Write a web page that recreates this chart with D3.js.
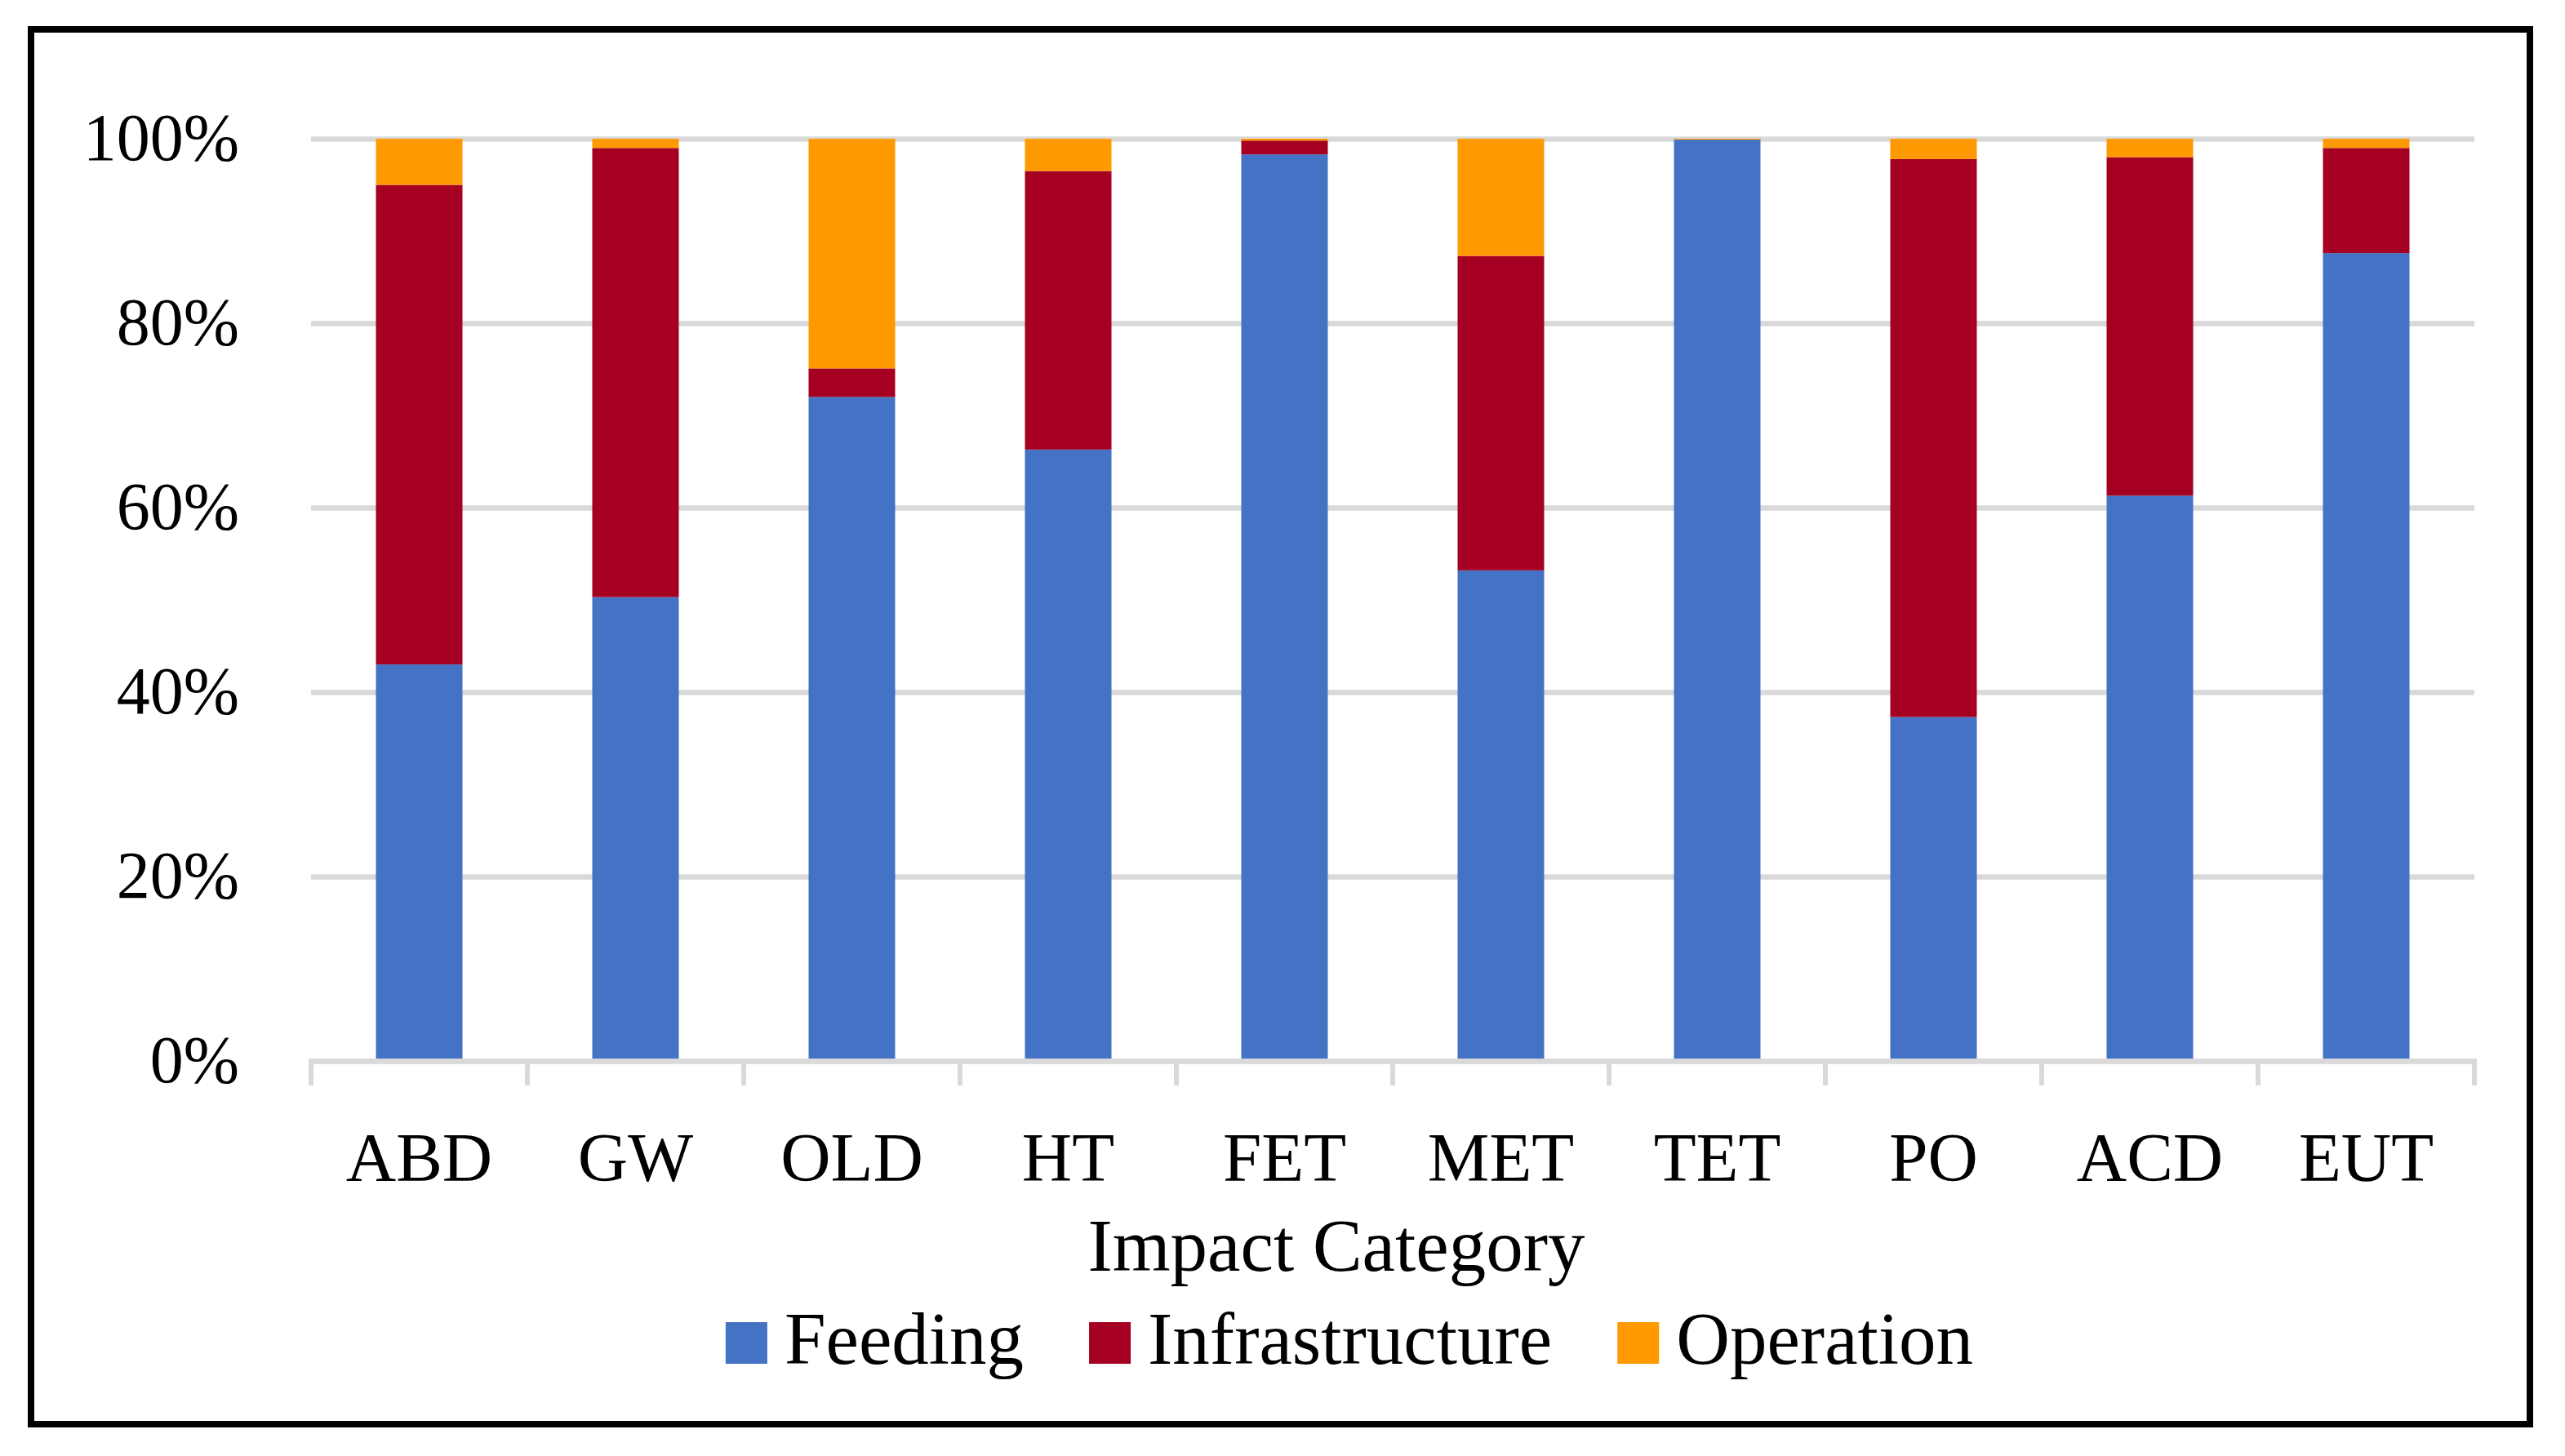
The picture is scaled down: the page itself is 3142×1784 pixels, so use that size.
<!DOCTYPE html>
<html>
<head>
<meta charset="utf-8">
<script src="https://cdn.jsdelivr.net/npm/d3@7"></script>
<style>
  body { margin: 0; background: #fff; }
  text { font-family: 'Liberation Serif', 'Times New Roman', serif; fill: #000; }
</style>
</head>
<body>
<div class="container"></div>
<script>
// impact categories along the x axis
const categories = ['ABD', 'GW', 'OLD', 'HT', 'FET', 'MET', 'TET', 'PO', 'ACD', 'EUT']

// share of each contributor, in percent
const feeding = [43.0, 50.3, 72.0, 66.3, 98.3, 53.2, 99.9, 37.3, 61.3, 87.6]
const infrastructure = [52.0, 48.7, 3.1, 30.2, 1.5, 34.1, 0.0, 60.5, 36.7, 11.4]
const operation = [5.0, 1.0, 24.9, 3.5, 0.2, 12.7, 0.1, 2.2, 2.0, 1.0]

const seriesNames = ['Feeding', 'Infrastructure', 'Operation']
const yTicks = [0, 20, 40, 60, 80, 100]

const colors = {
  Feeding: '#4472C4',
  Infrastructure: '#A50021',
  Operation: '#FF9900'
}

var data = categories.map(function (c, i) {
  return {
    category: c,
    Feeding: feeding[i],
    Infrastructure: infrastructure[i],
    Operation: operation[i]
  }
})

var W = 3142
var H = 1784
var plot = { left: 381, right: 3031, top: 170, bottom: 1300 }

var svg = d3.select('.container')
  .append('svg')
  .attr('width', W)
  .attr('height', H)

svg.append('rect')
  .attr('width', W)
  .attr('height', H)
  .attr('fill', '#fff')

// outer black frame
svg.append('rect')
  .attr('x', 38)
  .attr('y', 36)
  .attr('width', 3099 - 38)
  .attr('height', 1745 - 36)
  .attr('fill', 'none')
  .attr('stroke', '#000')
  .attr('stroke-width', 8)

var x = d3.scaleBand()
  .domain(categories)
  .range([plot.left, plot.right])
  .paddingInner(0.6)
  .paddingOuter(0.3)

var y = d3.scaleLinear()
  .domain([0, 100])
  .range([plot.bottom, plot.top])

// gridlines and y labels
var yAxis = svg.append('g')
  .attr('transform', 'translate(' + plot.left + ',0)')
  .call(d3.axisLeft(y)
    .tickValues(yTicks)
    .tickFormat(function (d) { return d + '%' })
    .tickSize(-(plot.right - plot.left))
    .tickPadding(88))
yAxis.select('.domain').remove()
yAxis.selectAll('line')
  .attr('stroke', '#D9D9D9')
  .attr('stroke-width', 6.5)
yAxis.selectAll('text')
  .style('font-size', '82px')
  .attr('dy', '0.31em')

// stacked bars
var stack = d3.stack().keys(seriesNames)
var layers = stack(data)

svg.append('g')
  .selectAll('g')
  .data(layers)
  .join('g')
  .attr('fill', function (d) { return colors[d.key] })
  .selectAll('rect')
  .data(function (d) { return d })
  .join('rect')
  .attr('x', function (d) { return x(d.data.category) })
  .attr('width', x.bandwidth())
  .attr('y', function (d) { return y(d[1]) })
  .attr('height', function (d) { return y(d[0]) - y(d[1]) })

// category axis: line with ticks between the categories
var gap = (x.step() - x.bandwidth()) / 2
var edges = categories.map(function (c) { return x(c) - gap })
edges.push(plot.right)

var xAxisG = svg.append('g')
xAxisG.append('line')
  .attr('x1', plot.left)
  .attr('x2', plot.right)
  .attr('y1', plot.bottom)
  .attr('y2', plot.bottom)
  .attr('stroke', '#D9D9D9')
  .attr('stroke-width', 6)
xAxisG.selectAll('.edge')
  .data(edges)
  .join('line')
  .attr('class', 'edge')
  .attr('x1', function (d) { return d })
  .attr('x2', function (d) { return d })
  .attr('y1', plot.bottom - 3)
  .attr('y2', plot.bottom + 30)
  .attr('stroke', '#D9D9D9')
  .attr('stroke-width', 6)

var xAxis = svg.append('g')
  .attr('transform', 'translate(0,' + plot.bottom + ')')
  .call(d3.axisBottom(x).tickSize(0).tickPadding(0))
xAxis.select('.domain').remove()
xAxis.selectAll('text')
  .style('font-size', '85px')
  .attr('dy', null)
  .attr('y', 147)

// axis title
svg.append('text')
  .attr('x', 1637)
  .attr('y', 1557)
  .attr('text-anchor', 'middle')
  .style('font-size', '91px')
  .text('Impact Category')

// legend, centred on the same line as the reference
var legend = svg.append('g')
var cursor = 0
var box = 51
seriesNames.forEach(function (name, i) {
  var item = legend.append('g').attr('transform', 'translate(' + cursor + ',0)')
  item.append('rect')
    .attr('x', 0)
    .attr('y', -51)
    .attr('width', box)
    .attr('height', box)
    .attr('fill', colors[name])
  var t = item.append('text')
    .attr('x', box + 21)
    .attr('y', 0)
    .style('font-size', '91px')
    .text(name)
  cursor += box + 21 + t.node().getComputedTextLength() + 80
})
var legendWidth = cursor - 80
legend.attr('transform', 'translate(' + (1653 - legendWidth / 2) + ',1671)')
</script>
</body>
</html>
